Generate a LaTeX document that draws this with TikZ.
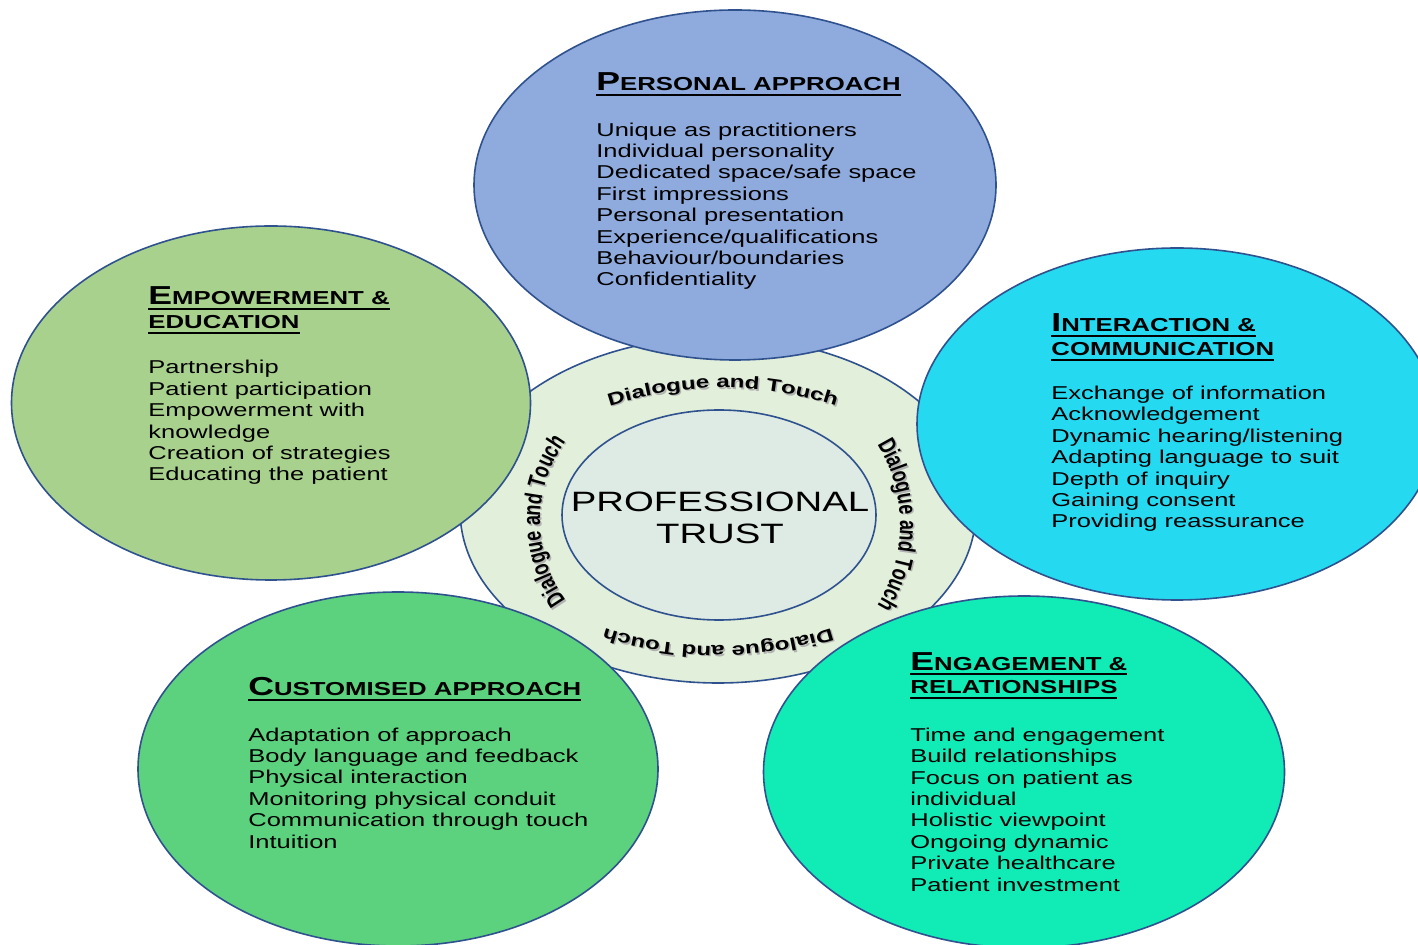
\documentclass[tikz,border=0pt]{standalone}
\usepackage{fontspec}
\setmainfont{Liberation Sans}
\newfontfamily\wideface[FakeStretch=1.37]{Liberation Sans}
\newfontfamily\tallface[FakeStretch=0.73]{Liberation Sans}
\usetikzlibrary{decorations.text}

\definecolor{edgeblue}{HTML}{2F528F}
\definecolor{persblue}{HTML}{8FAADC}
\definecolor{empgreen}{HTML}{A9D18E}
\definecolor{intcyan}{HTML}{25D9F1}
\definecolor{custgreen}{HTML}{5CD27E}
\definecolor{engteal}{HTML}{11EBB6}
\definecolor{ringgreen}{HTML}{E2EFDA}
\definecolor{corefill}{HTML}{DEEBE4}

% heading helpers
\newcommand\headrule[1]{\setbox0\hbox{#1}\rlap{\rule[-2.6pt]{\wd0}{1pt}}\box0}
\newcommand\initcap[1]{{\fontsize{13}{12}\selectfont #1}}
\newcommand\arcfont{\wideface\bfseries\fontsize{8.8}{10}\selectfont}
\newcommand\sidefont{\tallface\bfseries\fontsize{12.2}{14}\selectfont}

\begin{document}
\begin{tikzpicture}[x=0.5pt,y=0.5pt,
    bubble/.style = {draw=edgeblue, line width=0.8pt},
    headtext/.style = {anchor=base west, inner sep=0, align=left,
        font=\wideface\bfseries\fontsize{9.4}{12}\selectfont},
    listtext/.style = {anchor=base west, inner sep=0, align=left,
        font=\wideface\fontsize{9.3}{10.7}\selectfont},
    arcshadow/.style = {decorate, decoration={text along path, text align=center,
        text={|\color{black!30}#1|Dialogue and Touch}}},
    arctext/.style = {decorate, decoration={text along path, text align=center,
        text={|#1|Dialogue and Touch}}}]
    \clip (0,0) rectangle (1418,-945);
    \fill[white] (0,0) rectangle (1418,-945);

    % centre ring
    \draw[bubble, fill=ringgreen] (718,-510) ellipse [x radius=258, y radius=173];
    \draw[bubble, fill=corefill] (719,-515) ellipse [x radius=157, y radius=105];
    \node (core) [inner sep=0, align=center, font=\wideface\fontsize{14}{16}\selectfont]
        at (720,-518) {PROFESSIONAL\\TRUST};

    % curved labels (shadow first)
    \path[arcshadow=\arcfont] (724.5,-747.5) ++(108:358) arc[start angle=108, end angle=72, radius=358];
    \path[arctext=\arcfont] (723,-746) ++(108:358) arc[start angle=108, end angle=72, radius=358];
    \path[arcshadow=\arcfont] (719.5,-278.5) ++(-73:369) arc[start angle=-73, end angle=-107, radius=369];
    \path[arctext=\arcfont] (718,-277) ++(-73:369) arc[start angle=-73, end angle=-107, radius=369];
    \path[arcshadow=\sidefont] (677.5,-522.5) ++(215:136) arc[start angle=215, end angle=145, radius=136];
    \path[arctext=\sidefont] (676,-521) ++(215:136) arc[start angle=215, end angle=145, radius=136];
    \path[arcshadow=\sidefont] (746.5,-526.5) ++(31:155) arc[start angle=31, end angle=-31, radius=155];
    \path[arctext=\sidefont] (745,-525) ++(31:155) arc[start angle=31, end angle=-31, radius=155];

    % outer bubbles
    \draw[bubble, fill=persblue] (735,-185) ellipse [x radius=261, y radius=175];
    \draw[bubble, fill=empgreen] (271,-403) ellipse [x radius=259.5, y radius=177];
    \draw[bubble, fill=intcyan] (1177,-424) ellipse [x radius=260, y radius=176];
    \draw[bubble, fill=custgreen] (398,-769) ellipse [x radius=260, y radius=177];
    \draw[bubble, fill=engteal] (1024,-772) ellipse [x radius=260.5, y radius=176];

    % personal approach (nodes sit on their last baseline)
    \node (pers-head) [headtext] at (596,-91) {\headrule{\initcap{P}ERSONAL APPROACH}};
    \node (pers-list) [listtext] at (596,-286) {Unique as practitioners\\Individual personality\\
        Dedicated space/safe space\\First impressions\\Personal presentation\\
        Experience/qualifications\\Behaviour/boundaries\\Confidentiality};

    % empowerment & education
    \node (emp-head) [headtext] at (148,-329) {\headrule{\initcap{E}MPOWERMENT \&}\\\headrule{EDUCATION}};
    \node (emp-list) [listtext] at (148,-481) {Partnership\\Patient participation\\
        Empowerment with\\knowledge\\Creation of strategies\\Educating the patient};

    % interaction & communication
    \node (int-head) [headtext] at (1051,-356) {\headrule{\initcap{I}NTERACTION \&}\\\headrule{COMMUNICATION}};
    \node (int-list) [listtext] at (1051,-528) {Exchange of information\\Acknowledgement\\
        Dynamic hearing/listening\\Adapting language to suit\\Depth of inquiry\\
        Gaining consent\\Providing reassurance};

    % customised approach
    \node (cust-head) [headtext] at (248,-696) {\headrule{\initcap{C}USTOMISED APPROACH}};
    \node (cust-list) [listtext] at (248,-848) {Adaptation of approach\\Body language and feedback\\
        Physical interaction\\Monitoring physical conduit\\Communication through touch\\Intuition};

    % engagement & relationships
    \node (eng-head) [headtext] at (910,-694) {\headrule{\initcap{E}NGAGEMENT \&}\\\headrule{RELATIONSHIPS}};
    \node (eng-list) [listtext] at (910,-891) {Time and engagement\\Build relationships\\
        Focus on patient as\\individual\\Holistic viewpoint\\Ongoing dynamic\\
        Private healthcare\\Patient investment};
\end{tikzpicture}
\end{document}
